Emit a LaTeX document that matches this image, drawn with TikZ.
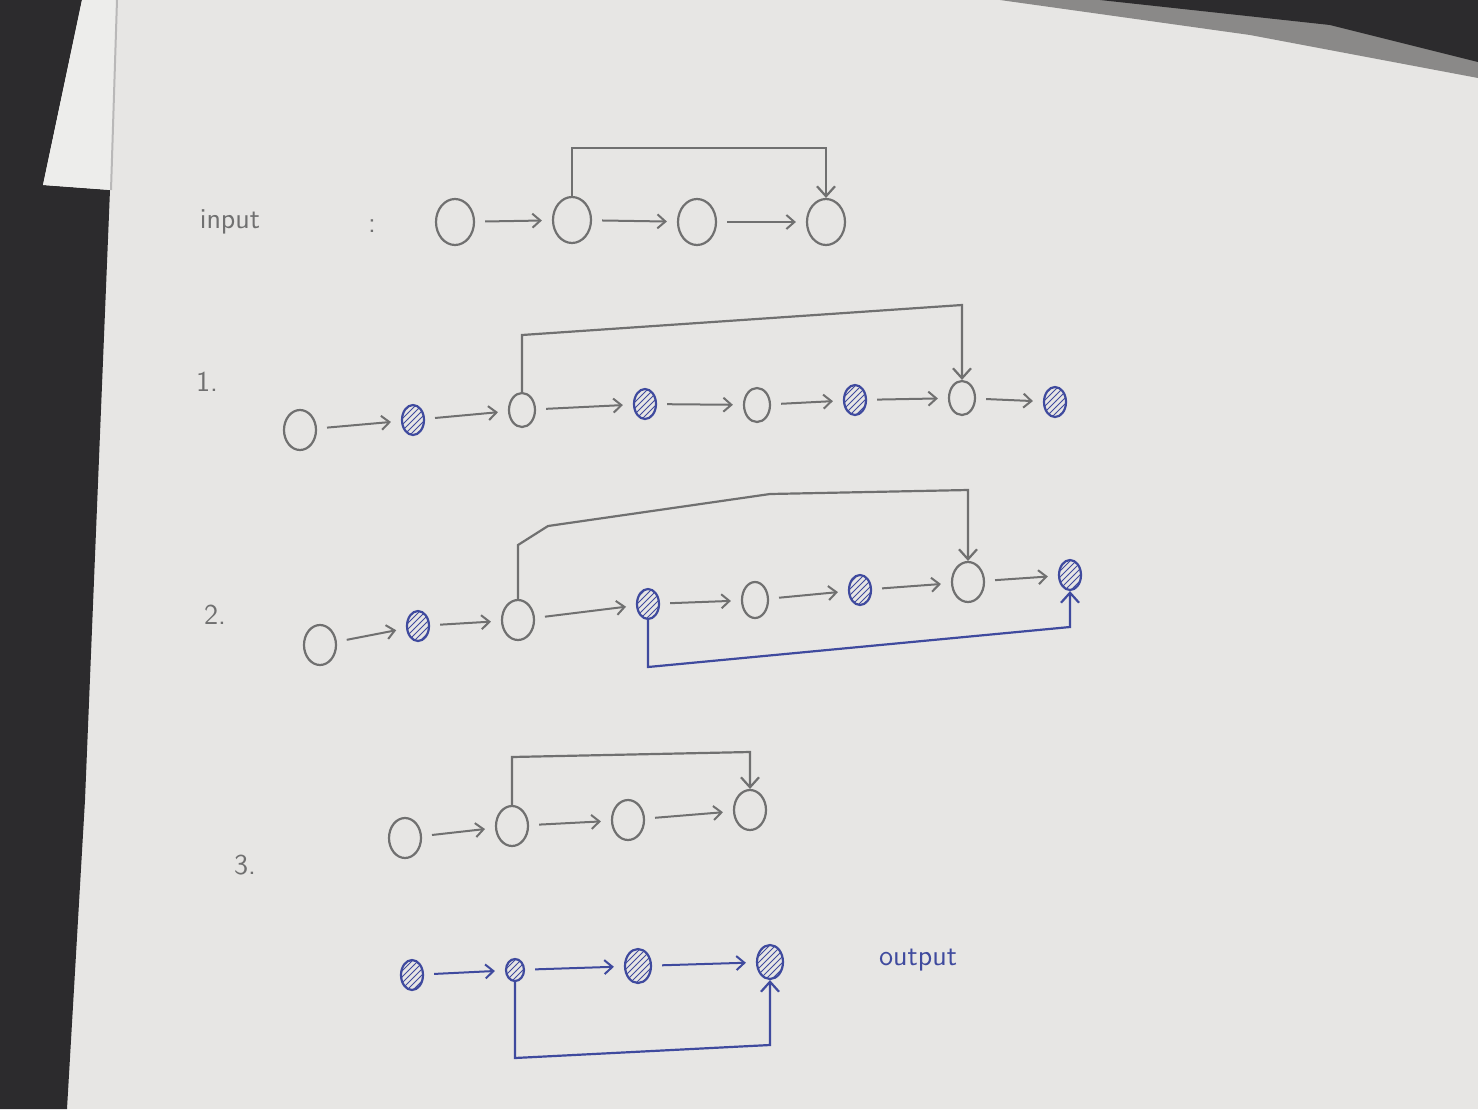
\documentclass[tikz,border=0pt]{standalone}
\usetikzlibrary{arrows.meta,shapes.geometric,patterns}
\definecolor{paper}{HTML}{E7E6E4}
\definecolor{sheet}{HTML}{EDEDEB}
\definecolor{pencil}{HTML}{707070}
\definecolor{ink}{HTML}{3F4A9E}
\definecolor{desk}{HTML}{2C2B2D}
\definecolor{shadow}{HTML}{8A8988}
\tikzset{
  orig/.style={ellipse,draw=pencil,line width=1.1pt,minimum width=16pt,minimum height=20pt,inner sep=0pt},
  origbig/.style={orig,minimum width=19pt,minimum height=23pt},
  copyn/.style={ellipse,draw=ink,line width=1.1pt,minimum width=11pt,minimum height=15pt,inner sep=0pt,
    pattern=north east lines,pattern color=ink},
  nx/.style={-{Straight Barb[length=4pt,width=7pt]},line width=1pt,shorten >=5pt,shorten <=5pt},
  nxp/.style={nx,draw=pencil},
  nxb/.style={nx,draw=ink},
  rnd/.style={-{Straight Barb[length=5pt,width=9pt]},line width=1.1pt},
  lbl/.style={font=\sffamily\Large,text=pencil},
}
\begin{document}
\begin{tikzpicture}[x=0.5pt,y=-0.5pt]
\useasboundingbox (0,0) rectangle (1478,1109);
% background
\fill[paper] (0,0) rectangle (1478,1109);
\fill[desk] (0,0) -- (82,0) -- (43,185) -- (110,190) -- (85,800) -- (67,1109) -- (0,1109) -- cycle;
\fill[sheet] (82,0) -- (117,0) -- (111,190) -- (43,185) -- cycle;
\draw[shadow!60,line width=1pt] (117,0) -- (111,190);
\fill[shadow] (1000,0) -- (1478,0) -- (1478,78) -- (1250,35) -- cycle;
\fill[desk] (1100,0) -- (1478,0) -- (1478,62) -- (1330,25) -- cycle;

% ---------- input ----------
\node[lbl] (tin) at (230,222) {input};
\node[lbl] (tcol) at (372,226) {:};
\node[origbig] (a1) at (455,222) {};
\node[origbig] (a2) at (572,220) {};
\node[origbig] (a3) at (697,222) {};
\node[origbig] (a4) at (826,222) {};
\draw[nxp] (a1) -- (a2);
\draw[nxp] (a2) -- (a3);
\draw[nxp] (a3) -- (a4);
\draw[rnd,pencil] (a2.north) -- (a2.north |- 0,148) -- (a4.north |- 0,148) -- (a4.north);

% ---------- 1. ----------
\node[lbl] (t1) at (207,382) {1.};
\node[orig] (b1) at (300,430) {};
\node[copyn] (b2) at (413,420) {};
\node[orig,minimum width=13pt,minimum height=17pt] (b3) at (522,410) {};
\node[copyn] (b4) at (645,404) {};
\node[orig,minimum width=13pt,minimum height=17pt] (b5) at (757,405) {};
\node[copyn] (b6) at (855,400) {};
\node[orig,minimum width=13pt,minimum height=17pt] (b7) at (962,398) {};
\node[copyn] (b8) at (1055,402) {};
\draw[nxp] (b1) -- (b2);
\draw[nxp] (b2) -- (b3);
\draw[nxp] (b3) -- (b4);
\draw[nxp] (b4) -- (b5);
\draw[nxp] (b5) -- (b6);
\draw[nxp] (b6) -- (b7);
\draw[nxp] (b7) -- (b8);
\draw[rnd,pencil] (b3.north) -- (b3.north |- 0,335) -- (b7.north |- 0,305) -- (b7.north);

% ---------- 2. ----------
\node[lbl] (t2) at (215,615) {2.};
\node[orig] (c1) at (320,645) {};
\node[copyn] (c2) at (418,626) {};
\node[orig] (c3) at (518,620) {};
\node[copyn] (c4) at (648,604) {};
\node[orig,minimum width=13pt,minimum height=18pt] (c5) at (755,600) {};
\node[copyn] (c6) at (860,590) {};
\node[orig] (c7) at (968,582) {};
\node[copyn] (c8) at (1070,575) {};
\draw[nxp] (c1) -- (c2);
\draw[nxp] (c2) -- (c3);
\draw[nxp] (c3) -- (c4);
\draw[nxp] (c4) -- (c5);
\draw[nxp] (c5) -- (c6);
\draw[nxp] (c6) -- (c7);
\draw[nxp] (c7) -- (c8);
\draw[rnd,pencil] (c3.north) -- (c3.north |- 0,545) -- (548,526) -- (770,494) -- (c7.north |- 0,490) -- (c7.north);
\draw[rnd,ink] (c4.south) -- (c4.south |- 0,667) -- (c8.south |- 0,627) -- (c8.south);

% ---------- 3. ----------
\node[lbl] (t3) at (245,865) {3.};
\node[orig] (d1) at (405,838) {};
\node[orig] (d2) at (512,826) {};
\node[orig] (d3) at (628,820) {};
\node[orig] (d4) at (750,810) {};
\draw[nxp] (d1) -- (d2);
\draw[nxp] (d2) -- (d3);
\draw[nxp] (d3) -- (d4);
\draw[rnd,pencil] (d2.north) -- (d2.north |- 0,757) -- (d4.north |- 0,752) -- (d4.north);

% ---------- output ----------
\node[copyn] (e1) at (412,975) {};
\node[copyn,minimum width=9pt,minimum height=11pt] (e2) at (515,970) {};
\node[copyn,minimum width=13pt,minimum height=17pt] (e3) at (638,966) {};
\node[copyn,minimum width=13pt,minimum height=17pt] (e4) at (770,962) {};
\draw[nxb] (e1) -- (e2);
\draw[nxb] (e2) -- (e3);
\draw[nxb] (e3) -- (e4);
\draw[rnd,ink] (e2.south) -- (e2.south |- 0,1058) -- (e4.south |- 0,1045) -- (e4.south);
\node[lbl,text=ink] (tout) at (918,960) {output};
\end{tikzpicture}
\end{document}
